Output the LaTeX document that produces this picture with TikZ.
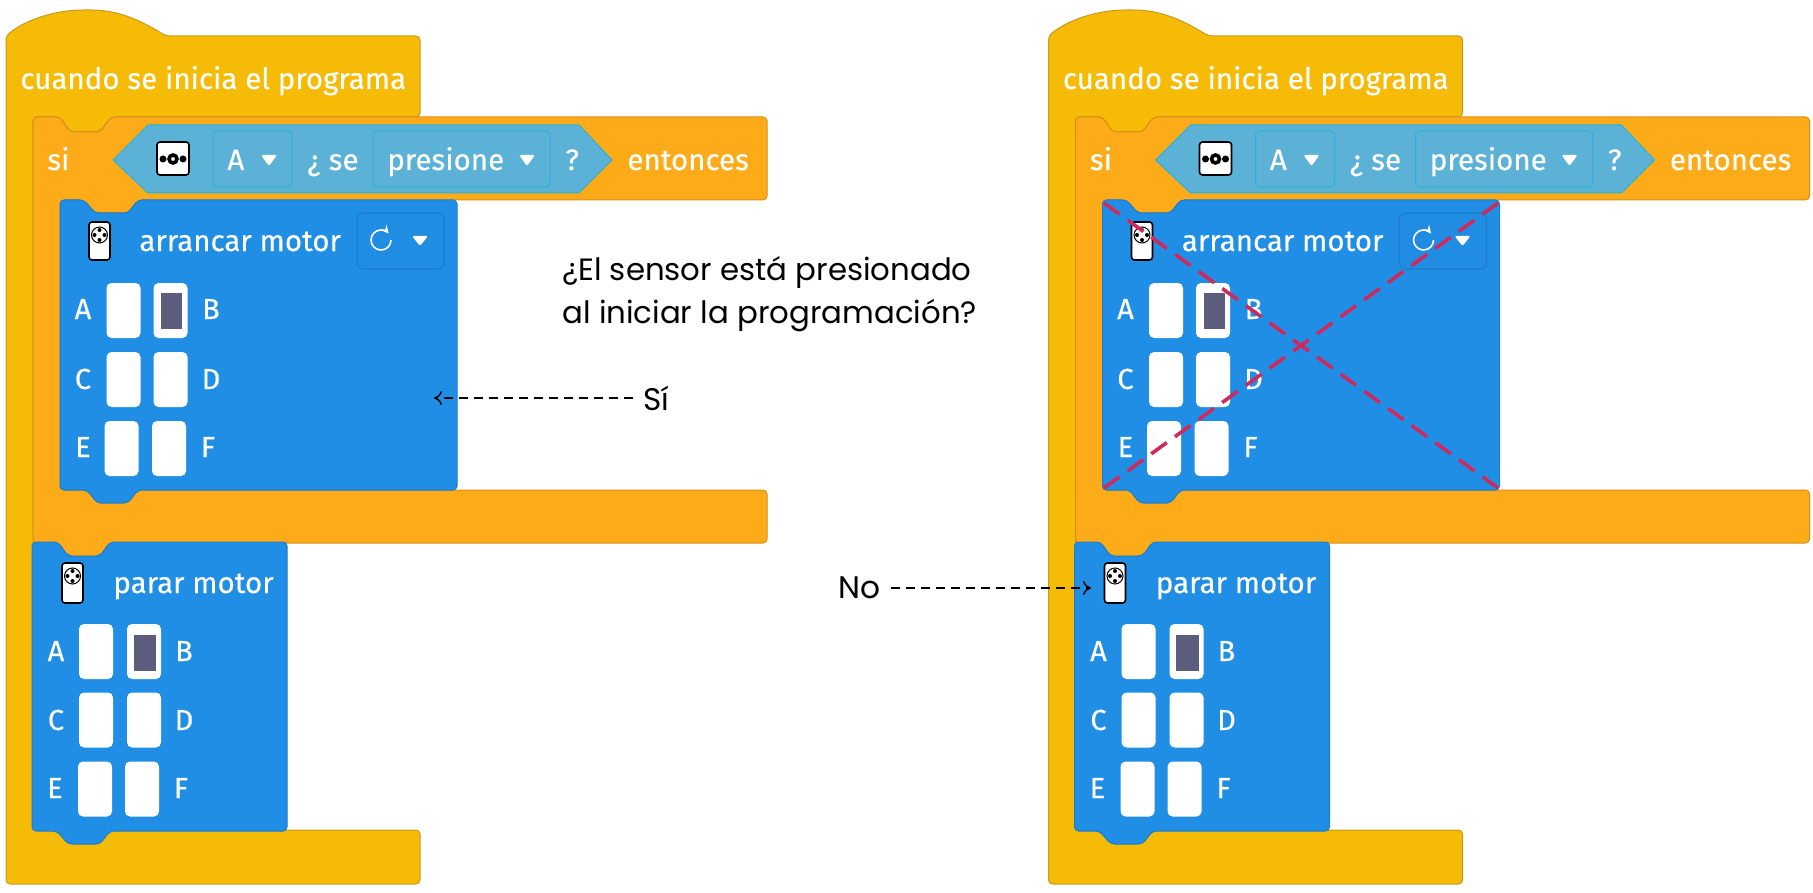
\documentclass[tikz,border=0pt]{standalone}
\usepackage{fontspec}
\usetikzlibrary{arrows.meta}
\setmainfont{Poppins}
\newfontfamily\bloque[FakeBold=0.35]{Fira Sans}
\definecolor{amarillo}{HTML}{F5BB07}
\definecolor{amarilloB}{HTML}{C79A1E}
\definecolor{naranja}{HTML}{FEAB19}
\definecolor{naranjaB}{HTML}{D98F17}
\definecolor{azul}{HTML}{208EE5}
\definecolor{azulB}{HTML}{1C7CCB}
\definecolor{celeste}{HTML}{5CB1D6}
\definecolor{celesteB}{HTML}{2AB2D6}
\definecolor{gris}{HTML}{5C5C7C}
\definecolor{rojo}{HTML}{CF2A5E}
\tikzset{
pad/.style={fill=white,rounded corners=2.5pt,inner sep=0pt,minimum width=17pt,minimum height=27.5pt},
etq/.style={text=white,inner sep=0pt,anchor=base,font=\bloque\fontsize{14.5}{16}\selectfont},
txt/.style={text=white,inner sep=0pt,anchor=base west,font=\bloque\fontsize{14.75}{18}\selectfont},
resp/.style={inner sep=5pt,font=\fontsize{15.6}{20}\selectfont},
flecha/.style={-{To[length=4pt,width=7pt]},line width=0.7pt,dash pattern=on 4.5pt off 3pt},
cruz/.style={rojo,line width=1.8pt,dash pattern=on 9.6pt off 5pt},
icono/.style={draw=black,fill=white,line width=0.8pt,rounded corners=1.5pt},
programa/.pic={
\filldraw[amarillo,draw=amarilloB,line width=0.5pt,rounded corners=2pt] (6,36) .. controls (25,20) and (55,10) .. (87,10) .. controls (118,10) and (140,20) .. (166,36) -- (420,36) -- (420,117) -- (111,117) -- (100,132) -- (70,132) -- (60,117) -- (33,117) -- (33,830) -- (420,830) -- (420,884) -- (6,884) -- cycle;
\filldraw[naranja,draw=naranjaB,line width=0.5pt,rounded corners=2pt] (33,117) -- (60,117) -- (70,132) -- (100,132) -- (111,117) -- (767,117) -- (767,200) -- (138,200) -- (128,213) -- (95,213) -- (84,200) -- (60,200) -- (60,490) -- (767,490) -- (767,543) -- (110,543) -- (100,556) -- (68,556) -- (58,543) -- (33,543) -- cycle;
\filldraw[celeste,draw=celesteB,line width=0.5pt] (113,160) -- (148,125) -- (579,125) -- (612,160) -- (579,193) -- (148,193) -- cycle;
\filldraw[celeste,draw=celesteB,line width=0.5pt,rounded corners=2pt] (213,131) rectangle (292,187);
\filldraw[celeste,draw=celesteB,line width=0.5pt,rounded corners=2pt] (373,131) rectangle (550,187);
\filldraw[azul,draw=azulB,line width=0.5pt,rounded corners=2pt] (60,200) -- (84,200) -- (95,213) -- (128,213) -- (138,200) -- (457,200) -- (457,490) -- (138,490) -- (128,503) -- (97,503) -- (87,490) -- (60,490) -- cycle;
\filldraw[azul,draw=azulB,line width=0.5pt,rounded corners=2pt] (32,542) -- (58,542) -- (68,556) -- (100,556) -- (110,542) -- (287,542) -- (287,831) -- (110,831) -- (100,844) -- (68,844) -- (57,831) -- (32,831) -- cycle;
\filldraw[azul!92!azulB,draw=azulB,line width=0.6pt,rounded corners=3pt] (357,213) rectangle (444,269);
\node[txt] (cuando) at (20,89) {cuando se inicia el programa};
\node[txt] (si) at (47,170) {si};
\node[txt] (pregunta) at (307,170) {¿ se};
\node[txt] (presione) at (387,170) {presione};
\node[txt] (interroga) at (565,170) {?};
\node[txt] (entonces) at (627,170) {entonces};
\node[txt] (letra) at (227,170) {A};
\node[txt] (arrancar) at (139,251) {arrancar motor};
\node[txt] (parar) at (113,593) {parar motor};
\fill[white,rounded corners=1pt] (261,155) -- (277,155) -- (269,166) -- cycle;
\fill[white,rounded corners=1pt] (519,155) -- (535,155) -- (527,166) -- cycle;
\fill[white,rounded corners=1pt] (412,236) -- (428,236) -- (420,246) -- cycle;
\draw[white,line width=0.8pt,-stealth] (391,240) arc (0:320:10);
\draw[icono] (157,142) rectangle (189,175);
\draw[black,line width=1.8pt] (173,159) circle (4);
\fill[black] (163,159) circle (3.5) (183,159) circle (3.5);
\draw[icono] (89,222) rectangle (110,260);
\draw[black,line width=0.5pt] (99.5,235) circle (8);
\fill[black] (99.5,230) circle (2) (99.5,240) circle (2) (94.5,235) circle (2) (104.5,235) circle (2);
\draw[icono] (62,563) rectangle (83,603);
\draw[black,line width=0.5pt] (72.5,576) circle (8);
\fill[black] (72.5,571) circle (2) (72.5,581) circle (2) (67.5,576) circle (2) (77.5,576) circle (2);
\node[pad] (padA) at (123.5,310.5) {};
\node[pad] (padB) at (170.5,310.5) {};
\node[pad] (padC) at (123.5,379.5) {};
\node[pad] (padD) at (170.5,379.5) {};
\node[pad] (padE) at (121.5,448.5) {};
\node[pad] (padF) at (169,448.5) {};
\fill[gris] (161,293) rectangle (182,329);
\node[etq] (letA) at (83,319) {A};
\node[etq] (letB) at (211,319) {B};
\node[etq] (letC) at (83,389) {C};
\node[etq] (letD) at (211,389) {D};
\node[etq] (letE) at (83,457) {E};
\node[etq] (letF) at (208,457) {F};
\node[pad] (padA2) at (96,651.5) {};
\node[pad] (padB2) at (144,651.5) {};
\node[pad] (padC2) at (96,720) {};
\node[pad] (padD2) at (144,720) {};
\node[pad] (padE2) at (95,789) {};
\node[pad] (padF2) at (142,789) {};
\fill[gris] (133.5,635) rectangle (156,671);
\node[etq] (letA2) at (56,661) {A};
\node[etq] (letB2) at (184,661) {B};
\node[etq] (letC2) at (56,730) {C};
\node[etq] (letD2) at (184,730) {D};
\node[etq] (letE2) at (55,798) {E};
\node[etq] (letF2) at (181,798) {F};
}
}
\begin{document}
\begin{tikzpicture}[x=0.5pt,y=-0.5pt]
\useasboundingbox (0,0) rectangle (1813,893);
\pic (izq) at (0,0) {programa};
\pic (der) at (1042.5,0) {programa};
\node[anchor=north west,inner sep=0pt,align=left,font=\fontsize{15.4}{21.5}\selectfont] (cuestion) at (562,256) {¿El sensor está presionado\\al iniciar la programación?};
\node[resp,anchor=west] (respSi) at (633,398) {Sí};
\coordinate (puntaSi) at (434,398);
\draw[flecha] (respSi) -- (puntaSi);
\node[resp,anchor=east] (respNo) at (891,588) {No};
\coordinate (puntaNo) at (1091,588);
\draw[flecha] (respNo) -- (puntaNo);
\coordinate (cruzA) at (1104,203);
\coordinate (cruzB) at (1498,488);
\coordinate (cruzC) at (1498,203);
\coordinate (cruzD) at (1104,488);
\draw[cruz] (cruzA) -- (cruzB);
\draw[cruz] (cruzC) -- (cruzD);
\end{tikzpicture}
\end{document}
